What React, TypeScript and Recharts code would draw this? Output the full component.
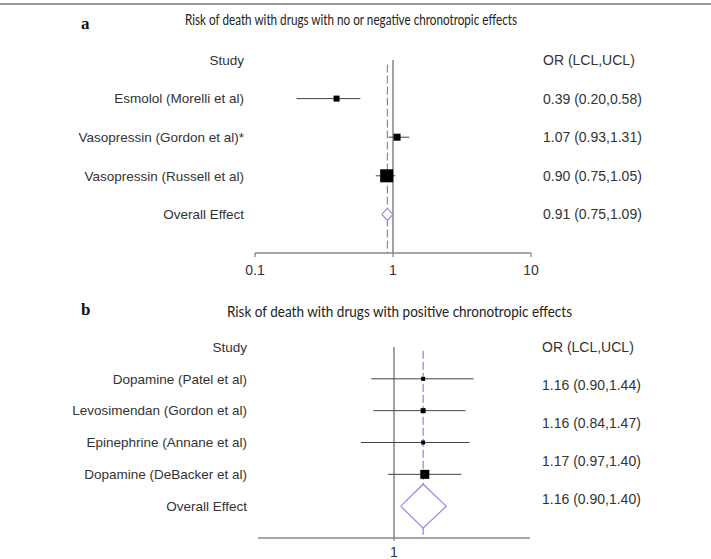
import React from "react";
import {
  ComposedChart,
  Scatter,
  XAxis,
  YAxis,
  ReferenceLine,
} from "recharts";

// panel a: drugs with no or negative chronotropic effects
const studiesA = ["Esmolol (Morelli et al)", "Vasopressin (Gordon et al)*", "Vasopressin (Russell et al)"];
const orA = [0.39, 1.07, 0.9];
const lclA = [0.2, 0.93, 0.75];
const uclA = [0.58, 1.31, 1.04];
const weightA = [6, 7, 13];
const textA = ["0.39 (0.20,0.58)", "1.07 (0.93,1.31)", "0.90 (0.75,1.05)", "0.91 (0.75,1.09)"];
const overallA = [0.91, 0.83, 1.0]; // estimate, left tip, right tip as drawn
const ticksA = [0.1, 1, 10];

// panel b: drugs with positive chronotropic effects
const studiesB = ["Dopamine (Patel et al)", "Levosimendan (Gordon et al)", "Epinephrine (Annane et al)", "Dopamine (DeBacker et al)"];
const orB = [1.16, 1.16, 1.16, 1.17];
const lclB = [0.89, 0.9, 0.845, 0.97];
const uclB = [1.5, 1.44, 1.47, 1.41];
const weightB = [4, 5, 4, 9];
const textB = ["1.16 (0.90,1.44)", "1.16 (0.84,1.47)", "1.17 (0.97,1.40)", "1.16 (0.90,1.40)"];
const overallB = [1.16, 1.035, 1.305];
const ticksB = [1];

const FONT = "'Liberation Sans', Arial, sans-serif";
const DASH = "#6b6bd8";
const DIAMOND = "#8c8ce2";

type PanelProps = {
  top: number;
  height: number;
  margin: { top: number; right: number; bottom: number; left: number };
  domain: [number, number];
  xTicks: number[];
  studies: string[];
  or: number[];
  lcl: number[];
  ucl: number[];
  weight: number[];
  text: string[];
  overall: number[];
  diamondHalf: number;
  rightMax: number;
  xTickSize: number;
  xTickMargin: number;
};

function ForestPanel(p: PanelProps) {
  const n = p.studies.length;
  const bottomRow = n + 2;
  const leftLabels = ["Study", ...p.studies, "Overall Effect"];
  const rightLabels = ["OR (LCL,UCL)", ...p.text];
  const boxes = p.or.map((v, i) => ({ x: v, y: i + 1, w: p.weight[i] }));
  const oRow = n + 1;
  const [est, lo, hi] = p.overall;
  const diamond = [
    { x: lo, y: oRow },
    { x: est, y: oRow - p.diamondHalf },
    { x: hi, y: oRow },
    { x: est, y: oRow + p.diamondHalf },
    { x: lo, y: oRow },
  ];
  const labelStyle = { fontSize: 13.5, fill: "#333", fontFamily: FONT };
  const orStyle = { fontSize: 14, fill: "#333", fontFamily: FONT };
  const axisStyle = { fontSize: 14, fill: "#333", fontFamily: FONT };
  return (
    <div style={{ position: "absolute", left: 0, top: p.top }}>
      <ComposedChart width={711} height={p.height} margin={p.margin}>
        <XAxis
          type="number"
          dataKey="x"
          scale="log"
          domain={p.domain}
          ticks={p.xTicks}
          allowDataOverflow
          stroke="#888"
          strokeWidth={1.3}
          tick={axisStyle}
          tickSize={p.xTickSize}
          tickMargin={p.xTickMargin}
          tickFormatter={(v) => String(v)}
          height={20}
        />
        <YAxis
          yAxisId="l"
          type="number"
          dataKey="y"
          domain={[0, bottomRow]}
          reversed
          allowDataOverflow
          ticks={leftLabels.map((_, i) => i)}
          tickFormatter={(v) => leftLabels[v] ?? ""}
          axisLine={false}
          tickLine={false}
          tickSize={0}
          tickMargin={11}
          width={240}
          tick={labelStyle}
          interval={0}
        />
        <YAxis
          yAxisId="r"
          orientation="right"
          type="number"
          domain={[0, p.rightMax]}
          reversed
          allowDataOverflow
          ticks={rightLabels.map((_, i) => i)}
          tickFormatter={(v) => rightLabels[v] ?? ""}
          axisLine={false}
          tickLine={false}
          tickSize={0}
          tickMargin={12}
          width={170}
          tick={orStyle}
          interval={0}
        />
        <ReferenceLine
          yAxisId="l"
          segment={[{ x: 1, y: 0 }, { x: 1, y: bottomRow }]}
          stroke="#666"
          strokeWidth={1.2}
          ifOverflow="visible"
        />
        <ReferenceLine
          yAxisId="l"
          segment={[{ x: est, y: 0.12 }, { x: est, y: bottomRow }]}
          stroke={DASH}
          strokeDasharray="8 3"
          ifOverflow="visible"
        />
        {p.or.map((_, i) => (
          <ReferenceLine
            key={i}
            yAxisId="l"
            segment={[{ x: p.lcl[i], y: i + 1 }, { x: p.ucl[i], y: i + 1 }]}
            stroke="#444"
            strokeWidth={1}
            ifOverflow="visible"
          />
        ))}
        <Scatter
          yAxisId="l"
          data={boxes}
          isAnimationActive={false}
          shape={(s: any) => {
            const w = s.payload.w;
            return <rect x={s.cx - w / 2} y={s.cy - w / 2} width={w} height={w} fill="#000" />;
          }}
        />
        <Scatter
          yAxisId="l"
          data={diamond}
          isAnimationActive={false}
          fill={DIAMOND}
          line={{ fill: "#fff", stroke: DIAMOND, strokeWidth: 1.2 }}
          shape={() => <g />}
        />
      </ComposedChart>
    </div>
  );
}

export default function App() {
  return (
    <div style={{ position: "absolute", left: 0, top: 0, width: 711, height: 559, background: "#fff" }}>
      <svg width={711} height={559} style={{ position: "absolute", left: 0, top: 0 }}>
        <line x1={0} y1={4} x2={711} y2={4} stroke="#999" strokeWidth={2} />
        <text x={81} y={29} fontFamily="'Liberation Serif', serif" fontWeight="bold" fontSize={17} fill="#111">a</text>
        <text x={81} y={315} fontFamily="'Liberation Serif', serif" fontWeight="bold" fontSize={17} fill="#111">b</text>
        <text x={185} y={25} fontFamily="Lato, 'Open Sans', sans-serif" fontSize={14.5} fill="#222" textLength={332} lengthAdjust="spacingAndGlyphs">
          Risk of death with drugs with no or negative chronotropic effects
        </text>
        <text x={227} y={317} fontFamily="Lato, 'Open Sans', sans-serif" fontSize={14.5} fill="#222" textLength={345} lengthAdjust="spacingAndGlyphs">
          Risk of death with drugs with positive chronotropic effects
        </text>
      </svg>
      <ForestPanel
        top={0}
        height={285}
        margin={{ top: 60, right: 10, bottom: 12, left: 15 }}
        domain={[0.1, 10]}
        xTicks={ticksA}
        studies={studiesA}
        or={orA}
        lcl={lclA}
        ucl={uclA}
        weight={weightA}
        text={textA}
        overall={overallA}
        diamondHalf={0.155}
        rightMax={5}
        xTickSize={4}
        xTickMargin={8}
      />
      <ForestPanel
        top={285}
        height={274}
        margin={{ top: 62, right: 11, bottom: 1, left: 18 }}
        domain={[0.5, 2]}
        xTicks={ticksB}
        studies={studiesB}
        or={orB}
        lcl={lclB}
        ucl={uclB}
        weight={weightB}
        text={textB}
        overall={overallB}
        diamondHalf={0.69}
        rightMax={191 / 38}
        xTickSize={3}
        xTickMargin={6}
      />
    </div>
  );
}
